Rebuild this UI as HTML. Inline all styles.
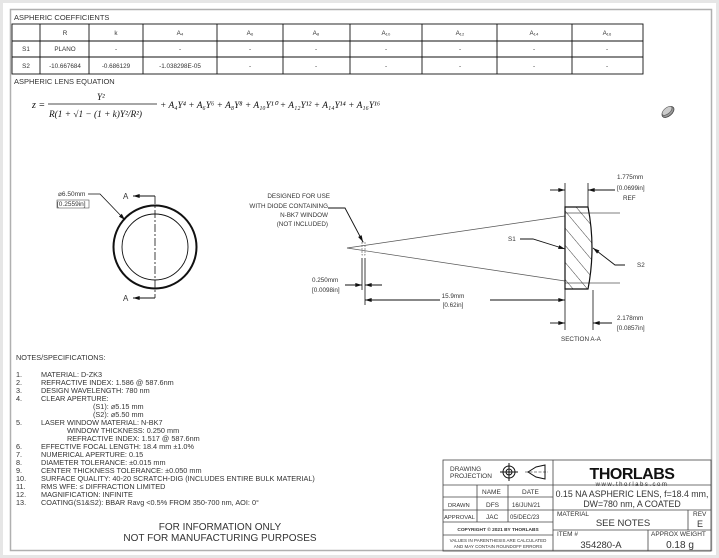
<!DOCTYPE html>
<html><head><meta charset="utf-8"><style>
html,body{margin:0;padding:0;background:#e6e6e6;}
svg{display:block;}
text{font-family:"Liberation Sans",sans-serif;fill:#333;}
.m{font-family:"Liberation Serif",serif;fill:#111;font-style:italic;}
</style></head><body>
<svg width="719" height="558" viewBox="0 0 719 558" xmlns="http://www.w3.org/2000/svg">
<defs>
<marker id="ar" viewBox="0 0 10 6" refX="10" refY="3" markerWidth="8" markerHeight="4" orient="auto" markerUnits="userSpaceOnUse"><path d="M0,0L10,3L0,6z" fill="#111"/></marker>
<pattern id="hat" patternUnits="userSpaceOnUse" width="11" height="11" patternTransform="rotate(-40)"><line x1="0" y1="0" x2="0" y2="11" stroke="#111" stroke-width="0.8"/></pattern>
</defs>
<rect x="3" y="3" width="713" height="552" fill="#fff"/>
<rect x="10.5" y="9.5" width="701" height="541" fill="none" stroke="#b0b0b0" stroke-width="1.5"/>

<text x="14" y="20" font-size="7.5">ASPHERIC COEFFICIENTS</text>
<g stroke="#111" stroke-width="0.9" fill="none">
<rect x="12" y="24" width="631" height="50"/>
<line x1="12" y1="41" x2="643" y2="41"/><line x1="12" y1="57" x2="643" y2="57"/>
<line x1="40" y1="24" x2="40" y2="74"/><line x1="89" y1="24" x2="89" y2="74"/>
<line x1="143" y1="24" x2="143" y2="74"/><line x1="217" y1="24" x2="217" y2="74"/>
<line x1="283" y1="24" x2="283" y2="74"/><line x1="350" y1="24" x2="350" y2="74"/>
<line x1="422" y1="24" x2="422" y2="74"/><line x1="497" y1="24" x2="497" y2="74"/>
<line x1="572" y1="24" x2="572" y2="74"/>
</g>
<g font-size="6.3" text-anchor="middle">
<text x="65" y="35">R</text><text x="116" y="35">k</text><text x="180" y="35">A₄</text><text x="250" y="35">A₆</text><text x="316" y="35">A₈</text><text x="386" y="35">A₁₀</text><text x="460" y="35">A₁₂</text><text x="534" y="35">A₁₄</text><text x="607" y="35">A₁₆</text>
<text x="26" y="51">S1</text><text x="65" y="51">PLANO</text><text x="116" y="51">-</text><text x="180" y="51">-</text><text x="250" y="51">-</text><text x="316" y="51">-</text><text x="386" y="51">-</text><text x="460" y="51">-</text><text x="534" y="51">-</text><text x="607" y="51">-</text>
<text x="26" y="68">S2</text><text x="65" y="68">-10.667684</text><text x="116" y="68">-0.686129</text><text x="180" y="68">-1.038298E-05</text><text x="250" y="68">-</text><text x="316" y="68">-</text><text x="386" y="68">-</text><text x="460" y="68">-</text><text x="534" y="68">-</text><text x="607" y="68">-</text>
</g>
<text x="14" y="84" font-size="7.5">ASPHERIC LENS EQUATION</text>
<text x="32" y="108" class="m" font-size="10">z =</text>
<text x="97" y="100" class="m" font-size="9">Y²</text>
<line x1="48" y1="104" x2="157" y2="104" stroke="#111" stroke-width="0.7"/>
<text x="49" y="117" class="m" font-size="9.3">R(1 + √1 − (1 + k)Y²/R²)</text>
<text x="160" y="108" class="m" font-size="9.4">+ A₄Y⁴ + A₆Y⁶ + A₈Y⁸ + A₁₀Y¹⁰ + A₁₂Y¹² + A₁₄Y¹⁴ + A₁₆Y¹⁶</text>

<g transform="translate(668,112) rotate(-40)">
<ellipse cx="0" cy="0" rx="7" ry="4" fill="#999" stroke="#444" stroke-width="0.8"/>
<ellipse cx="0" cy="-1.5" rx="6" ry="3" fill="#ccc" stroke="#555" stroke-width="0.6"/>
</g>

<circle cx="155" cy="247" r="41.5" fill="none" stroke="#111" stroke-width="2"/>
<circle cx="155" cy="247" r="33" fill="none" stroke="#111" stroke-width="0.9"/>
<line x1="155" y1="196" x2="155" y2="298" stroke="#111" stroke-width="0.8" stroke-dasharray="8,2,2,2"/>
<line x1="155" y1="196" x2="133" y2="196" stroke="#111" stroke-width="0.9" marker-end="url(#ar)"/>
<line x1="155" y1="298" x2="133" y2="298" stroke="#111" stroke-width="0.9" marker-end="url(#ar)"/>
<text x="123" y="199" font-size="8">A</text><text x="123" y="301" font-size="8">A</text>
<text x="58" y="196" font-size="6.5">⌀6.50mm</text>
<text x="57" y="206" font-size="6.5">[0.2559in]</text>
<rect x="57" y="200" width="32" height="8" fill="none" stroke="#333" stroke-width="0.5"/>
<polyline points="88,194 100,194 125,220" fill="none" stroke="#111" stroke-width="0.8" marker-end="url(#ar)"/>

<g stroke="#555" stroke-width="0.7" fill="none">
<line x1="347" y1="248" x2="565" y2="216"/><line x1="347" y1="248" x2="565" y2="281"/>
<line x1="565" y1="213" x2="620" y2="213"/><line x1="565" y1="283" x2="620" y2="283"/>
</g>
<rect x="362" y="242" width="3" height="13" fill="none" stroke="#555" stroke-width="0.6" stroke-dasharray="2,1"/>
<path d="M565,207 L588,207 Q596,248 588,289 L565,289 Z" fill="url(#hat)" stroke="#111" stroke-width="1.2"/>
<g stroke="#111" stroke-width="0.8" fill="none">
<line x1="362" y1="258" x2="362" y2="290"/><line x1="365" y1="258" x2="365" y2="305"/>
<line x1="565" y1="183" x2="565" y2="207"/><line x1="588" y1="183" x2="588" y2="207"/>
<line x1="565" y1="289" x2="565" y2="330"/><line x1="593" y1="290" x2="593" y2="330"/>
</g>
<g stroke="#111" stroke-width="0.9" fill="none">
<line x1="345" y1="285" x2="362" y2="285" marker-end="url(#ar)"/>
<line x1="382" y1="285" x2="365" y2="285" marker-end="url(#ar)"/>
<line x1="440" y1="300" x2="365" y2="300" marker-end="url(#ar)"/>
<line x1="490" y1="300" x2="565" y2="300" marker-end="url(#ar)"/>
<line x1="550" y1="190" x2="565" y2="190" marker-end="url(#ar)"/>
<line x1="615" y1="190" x2="588" y2="190" marker-end="url(#ar)"/>
<line x1="550" y1="323" x2="565" y2="323" marker-end="url(#ar)"/>
<line x1="612" y1="323" x2="593" y2="323" marker-end="url(#ar)"/>
<polyline points="328,208 345,208 363,242" marker-end="url(#ar)"/>
<polyline points="520,239 533,239 565,249" marker-end="url(#ar)"/>
<polyline points="625,265 615,265 593,248" marker-end="url(#ar)"/>
</g>
<g font-size="6.3">
<text x="330" y="198" text-anchor="end">DESIGNED FOR USE</text>
<text x="328" y="208" text-anchor="end">WITH DIODE CONTAINING</text>
<text x="328" y="217" text-anchor="end">N-BK7 WINDOW</text>
<text x="328" y="226" text-anchor="end">(NOT INCLUDED)</text>
<text x="312" y="282">0.250mm</text><text x="312" y="292">[0.0098in]</text>
<text x="453" y="298" text-anchor="middle">15.9mm</text><text x="453" y="307" text-anchor="middle">[0.62in]</text>
<text x="617" y="179">1.775mm</text><text x="617" y="190">[0.0699in]</text><text x="623" y="200">REF</text>
<text x="508" y="241">S1</text><text x="637" y="267">S2</text>
<text x="617" y="320">2.178mm</text><text x="617" y="330">[0.0857in]</text>
<text x="561" y="341">SECTION A-A</text>
</g>

<g font-size="7.3">
<text x="16" y="360">NOTES/SPECIFICATIONS:</text>
<text x="16" y="377">1.</text><text x="41" y="377">MATERIAL: D-ZK3</text>
<text x="16" y="385">2.</text><text x="41" y="385">REFRACTIVE INDEX: 1.586 @ 587.6nm</text>
<text x="16" y="393">3.</text><text x="41" y="393">DESIGN WAVELENGTH: 780 nm</text>
<text x="16" y="401">4.</text><text x="41" y="401">CLEAR APERTURE:</text>
<text x="93" y="409">(S1): ⌀5.15 mm</text>
<text x="93" y="417">(S2): ⌀5.50 mm</text>
<text x="16" y="425">5.</text><text x="41" y="425">LASER WINDOW MATERIAL: N-BK7</text>
<text x="67" y="433">WINDOW THICKNESS: 0.250 mm</text>
<text x="67" y="441">REFRACTIVE INDEX: 1.517 @ 587.6nm</text>
<text x="16" y="449">6.</text><text x="41" y="449">EFFECTIVE FOCAL LENGTH: 18.4 mm ±1.0%</text>
<text x="16" y="457">7.</text><text x="41" y="457">NUMERICAL APERTURE: 0.15</text>
<text x="16" y="465">8.</text><text x="41" y="465">DIAMETER TOLERANCE: ±0.015 mm</text>
<text x="16" y="473">9.</text><text x="41" y="473">CENTER THICKNESS TOLERANCE: ±0.050 mm</text>
<text x="16" y="481">10.</text><text x="41" y="481">SURFACE QUALITY: 40-20 SCRATCH-DIG (INCLUDES ENTIRE BULK MATERIAL)</text>
<text x="16" y="489">11.</text><text x="41" y="489">RMS WFE: ≤ DIFFRACTION LIMITED</text>
<text x="16" y="497">12.</text><text x="41" y="497">MAGNIFICATION: INFINITE</text>
<text x="16" y="505">13.</text><text x="41" y="505">COATING(S1&amp;S2): BBAR Ravg &lt;0.5% FROM 350-700 nm, AOI: 0°</text>
</g>
<text x="220" y="530" font-size="10" text-anchor="middle">FOR INFORMATION ONLY</text>
<text x="220" y="541" font-size="10" text-anchor="middle">NOT FOR MANUFACTURING PURPOSES</text>

<g stroke="#444" stroke-width="0.8" fill="none">
<rect x="443" y="460" width="268" height="91"/>
<line x1="553" y1="460" x2="553" y2="551"/>
<line x1="443" y1="485" x2="711" y2="485"/>
<line x1="443" y1="497" x2="553" y2="497"/>
<line x1="443" y1="510" x2="711" y2="510"/>
<line x1="443" y1="522" x2="553" y2="522"/>
<line x1="443" y1="535" x2="553" y2="535"/>
<line x1="553" y1="530" x2="711" y2="530"/>
<line x1="477" y1="485" x2="477" y2="522"/><line x1="508" y1="485" x2="508" y2="522"/>
<line x1="688" y1="510" x2="688" y2="530"/><line x1="648" y1="530" x2="648" y2="551"/>
</g>
<g stroke="#111" stroke-width="1" fill="none">
<circle cx="509" cy="472" r="6"/><circle cx="509" cy="472" r="3"/>
<line x1="500" y1="472" x2="518" y2="472"/><line x1="509" y1="463" x2="509" y2="481"/>
<path d="M528,472 L536,467 L545,465 L545,479 L536,477 Z"/>
<line x1="525" y1="472" x2="548" y2="472" stroke-dasharray="3,1.5" stroke-width="0.6"/>
</g>
<g font-size="6.5">
<text x="450" y="471">DRAWING</text><text x="450" y="478">PROJECTION</text>
<text x="482" y="494">NAME</text><text x="522" y="494">DATE</text>
<text x="448" y="507" font-size="5.8">DRAWN</text><text x="486" y="507">DFS</text><text x="512" y="507" font-size="6">16/JUN/21</text>
<text x="444" y="519" font-size="5.8">APPROVAL</text><text x="486" y="519">JAC</text><text x="510" y="519" font-size="6">05/DEC/23</text>
<text x="498" y="531" font-size="4.8" text-anchor="middle" font-weight="bold">COPYRIGHT © 2021 BY THORLABS</text>
<text x="498" y="542" font-size="4.5" text-anchor="middle">VALUES IN PARENTHESIS ARE CALCULATED</text>
<text x="498" y="548" font-size="4.5" text-anchor="middle">AND MAY CONTAIN ROUNDOFF ERRORS</text>
<text x="557" y="516">MATERIAL</text><text x="693" y="516">REV</text>
<text x="557" y="536">ITEM #</text><text x="651" y="536">APPROX WEIGHT</text>
</g>
<text x="632" y="479" font-size="16" font-weight="bold" text-anchor="middle" style="fill:#111;letter-spacing:-0.5px">THORLABS</text>
<text x="632" y="486" font-size="6" text-anchor="middle" style="letter-spacing:1.5px">www.thorlabs.com</text>
<text x="632" y="497" font-size="8.8" text-anchor="middle">0.15 NA ASPHERIC LENS, f=18.4 mm,</text>
<text x="632" y="507" font-size="8.8" text-anchor="middle">DW=780 nm, A COATED</text>
<text x="623" y="526" font-size="9.5" text-anchor="middle">SEE NOTES</text>
<text x="700" y="527" font-size="9" text-anchor="middle">E</text>
<text x="601" y="548" font-size="9.5" text-anchor="middle">354280-A</text>
<text x="680" y="548" font-size="10" text-anchor="middle">0.18 g</text>
</svg>
</body></html>
